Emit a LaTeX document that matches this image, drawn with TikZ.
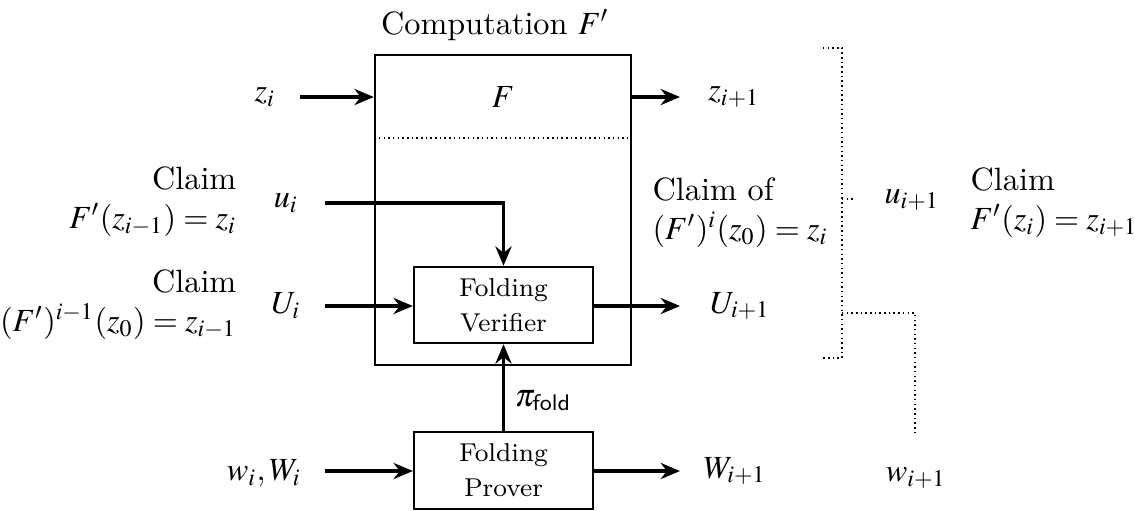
\documentclass[tikz,border=0pt]{standalone}
\usepackage{mathptmx}
\renewcommand{\rmdefault}{lmr}
\usetikzlibrary{arrows.meta}
\tikzset{
  lbl/.style={inner sep=0pt, align=center},
  claimr/.style={inner sep=0pt, align=right, anchor=east},
  claiml/.style={inner sep=0pt, align=left, anchor=west},
  blk/.style={draw, line width=0.7pt, inner sep=0pt, align=center,
     font=\footnotesize},
  arr/.style={line width=1pt, -{Stealth[length=6pt,width=5pt]}},
  dots/.style={densely dotted, line width=0.45pt},
}
\begin{document}
\begin{tikzpicture}[x=0.31pt,y=-0.31pt]
\useasboundingbox (0,0) rectangle (1135,510);
% main box
\node[draw, line width=0.7pt, minimum width=79.4pt, minimum height=96.1pt, inner sep=0pt] (comp) at (503,210) {};
\node[lbl] (title) at (495,25) {Computation $F'$};
\node[lbl] (F) at (503,97) {$F$};
\coordinate (dl) at (379,138);
\coordinate (dr) at (628,138);
\draw[dots] (dl) -- (dr);
% blocks
\node[blk, minimum width=55.5pt, minimum height=23.6pt] (ver) at (503.5,305) {Folding\\[1.3pt]Verifier};
\node[blk, minimum width=55.5pt, minimum height=23.9pt] (prov) at (503.5,470.5) {Folding\\[1.3pt]Prover};
% left labels
\node[lbl] (zi) at (265,97) {$z_i$};
\node[lbl] (ui) at (286,203) {$u_i$};
\node[lbl] (Ui) at (286,306) {$U_i$};
\node[lbl] (wi) at (264,473) {$w_i, W_i$};
\node[claimr] (c1) at (237,202) {Claim\\$F'(z_{i-1}) = z_i$};
\node[claimr] (c2) at (237,305) {Claim\\$(F')^{i-1}(z_0) = z_{i-1}$};
% right labels
\node[lbl] (zo) at (734,97) {$z_{i+1}$};
\node[lbl] (Uo) at (740,306) {$U_{i+1}$};
\node[lbl] (Wo) at (735,471) {$W_{i+1}$};
\node[claiml] (c3) at (652,213) {Claim of\\$(F')^i(z_0) = z_i$};
\node[lbl] (uo) at (912,200) {$u_{i+1}$};
\node[lbl] (wo) at (916,478) {$w_{i+1}$};
\node[claiml] (c4) at (970,203) {Claim\\$F'(z_i) = z_{i+1}$};
% arrow ends
\coordinate (zs) at (300,97);
\coordinate (us) at (325,203);
\coordinate (Us) at (325,306);
\coordinate (ws) at (325,471);
\coordinate (ze) at (680,97);
\coordinate (Ue) at (680,306);
\coordinate (We) at (680,471);
\draw[arr] (zs) -- (zs -| comp.west);
\draw[arr] (comp.east |- ze) -- (ze);
\draw[arr] (us) -| (ver.north);
\draw[arr] (Us) -- (Us -| ver.west);
\draw[arr] (ver.east |- Ue) -- (Ue);
\draw[arr] (ws) -- (ws -| prov.west);
\draw[arr] (prov.east |- We) -- (We);
\draw[arr] (prov.north) -- node[pos=0.35, right, xshift=3pt, inner sep=0pt] (pi) {$\pi_{\mathsf{fold}}$} (ver.south);
% dotted bracket
\coordinate (b1) at (823,48);
\coordinate (b2) at (842,48);
\coordinate (b3) at (842,358);
\coordinate (b4) at (823,358);
\coordinate (t1) at (842,199);
\coordinate (t2) at (855,199);
\coordinate (k1) at (842,313);
\coordinate (k2) at (915,313);
\coordinate (k3) at (915,435);
\draw[dots] (b1) -- (b2) -- (b3) -- (b4);
\draw[dots] (t1) -- (t2);
\draw[dots] (k1) -- (k2) -- (k3);
\end{tikzpicture}
\end{document}
